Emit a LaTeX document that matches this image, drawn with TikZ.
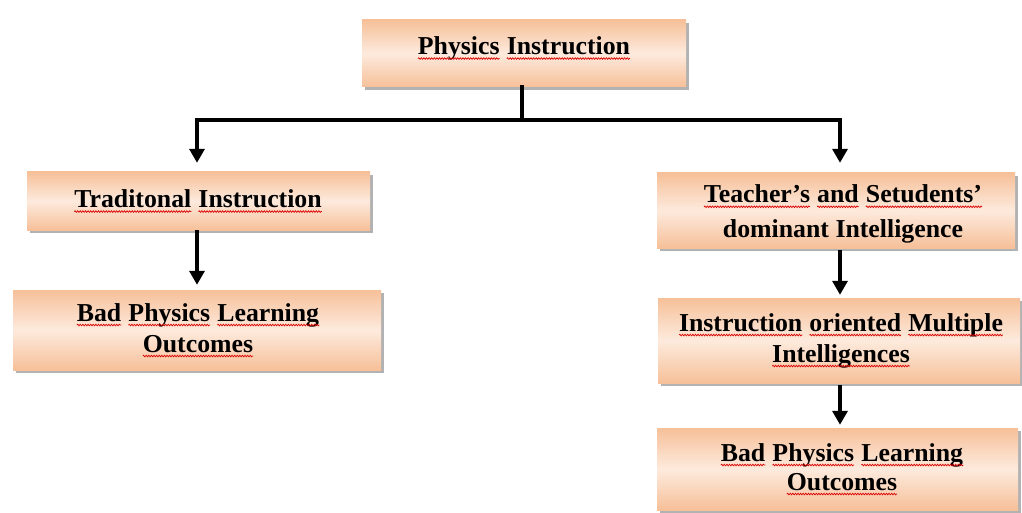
\documentclass[tikz,border=0pt]{standalone}
\usepackage{fontspec}
\setmainfont{Liberation Serif}
\usetikzlibrary{shadows,arrows.meta,calc,decorations.pathmorphing}
% red wavy underline for a single word
\newsavebox\wordbox
\newlength\wordlen
\newcommand\rwave[1]{\sbox\wordbox{#1}\setlength\wordlen{\wd\wordbox}%
  \tikz[baseline=0pt]{\pgftext[base,left]{\usebox\wordbox}%
    \draw[red!85!black, line width=0.7pt, decorate,
      decoration={snake, amplitude=0.8pt, segment length=2.6pt}]
      (0pt,-4pt) -- (\wordlen,-4pt);}}
\definecolor{boxedge}{HTML}{F6C099}
\definecolor{boxmid}{HTML}{FDEADD}
\begin{document}
\begin{tikzpicture}[x=1pt,y=-1pt,
  box/.style={rectangle, inner sep=0pt,
    top color=boxedge, bottom color=boxedge, middle color=boxmid,
    drop shadow={shadow xshift=3pt, shadow yshift=-3pt, opacity=0.5, fill=black!60}},
  label/.style={inner sep=0pt, align=center,
    font=\bfseries\fontsize{25.8}{31}\selectfont},
  link/.style={line width=3.4pt, line cap=rect},
  arr/.style={line width=3.4pt, -{Triangle[width=15pt,length=14pt]}}]
\useasboundingbox (0,0) rectangle (1022,513);
\fill[white] (0,0) rectangle (1022,513);

% shaded boxes
\node[box, minimum width=324pt, minimum height=67pt] (phys) at (524,53.5) {};
\node[box, minimum width=343pt, minimum height=58pt] (trad) at (198.5,201) {};
\node[box, minimum width=368pt, minimum height=80pt] (badl) at (197,330) {};
\node[box, minimum width=358pt, minimum height=75pt] (teach) at (836,210.5) {};
\node[box, minimum width=362pt, minimum height=85pt] (instr) at (839,340.5) {};
\node[box, minimum width=361pt, minimum height=82pt] (badr) at (837.5,469) {};

% box texts
\node[label] (physT) at (524,48) {\rwave{Physics} \rwave{Instruction}};
\node[label] (tradT) at (198,201) {\rwave{Traditonal} \rwave{Instruction}};
\node[label] (badlT) at (198,330) {\rwave{Bad} \rwave{Physics} \rwave{Learning}\\\rwave{Outcomes}};
\node[label, font=\bfseries\fontsize{25.8}{35}\selectfont] (teachT) at (843,214)
  {\rwave{Teacher’s} \rwave{and} \rwave{Setudents’}\\dominant Intelligence};
\node[label] (instrT) at (841,340) {\rwave{Instruction} \rwave{oriented} \rwave{Multiple}\\\rwave{Intelligences}};
\node[label, font=\bfseries\fontsize{25.8}{29}\selectfont] (badrT) at (842,469)
  {\rwave{Bad} \rwave{Physics} \rwave{Learning}\\\rwave{Outcomes}};

% junction points of the tree connector
\coordinate (jm) at (522,120);
\coordinate (jl) at (197,120);
\coordinate (jr) at (840,120);

\draw[link] (phys.south -| jm) -- (jm);
\draw[link] (jl) -- (jr);
\draw[arr, shorten >=9pt] (jl) -- (trad.north -| jl);
\draw[arr, shorten >=10pt] (jr) -- (teach.north -| jr);
\draw[arr, shorten >=5pt] (trad.south -| jl) -- (badl.north -| jl);
\draw[arr, shorten >=3pt] ($(teach.south -| jr)+(0,2)$) -- (instr.north -| jr);
\draw[arr, shorten >=3pt] ($(instr.south -| jr)+(0,2)$) -- (badr.north -| jr);
\end{tikzpicture}
\end{document}
